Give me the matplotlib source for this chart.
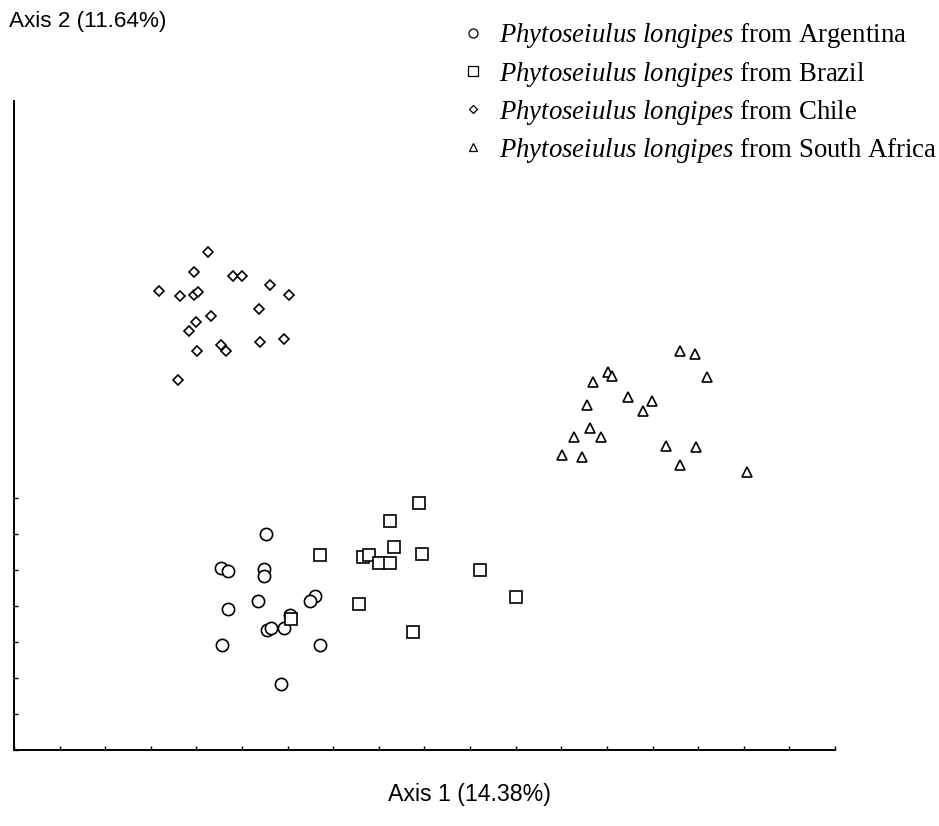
import numpy as np
import matplotlib
matplotlib.use("Agg")
import matplotlib.pyplot as plt
from matplotlib.lines import Line2D

plt.rcParams['mathtext.fontset'] = 'custom'
plt.rcParams['mathtext.rm'] = 'Liberation Serif'
plt.rcParams['mathtext.it'] = 'Liberation Serif:italic'

# --- data (axis units = tick spacing) ---
arg_x = [5.52, 4.54, 4.69, 5.49, 5.49, 5.35, 4.69, 6.60, 6.48, 6.05, 5.54, 5.64, 5.91, 4.55, 6.71, 5.85]
arg_y = [5.98, 5.05, 4.97, 5.01, 4.83, 4.12, 3.91, 4.26, 4.14, 3.74, 3.33, 3.37, 3.37, 2.90, 2.90, 1.83]

bra_x = [8.88, 8.25, 8.33, 6.71, 7.66, 7.79, 8.95, 8.01, 8.25, 10.21, 11.01, 7.56, 8.74, 6.07]
bra_y = [6.86, 6.36, 5.62, 5.41, 5.35, 5.41, 5.44, 5.18, 5.18, 5.00, 4.25, 4.04, 3.28, 3.63]

chi_x = [4.25, 3.94, 4.81, 5.00, 5.62, 3.18, 3.63, 3.95, 4.03, 6.04,
         5.37, 4.33, 3.98, 3.84, 5.93, 5.40, 4.01, 4.53, 4.64, 3.60]
chi_y = [13.81, 13.25, 13.15, 13.15, 12.89, 12.72, 12.58, 12.62, 12.69, 12.62,
         12.23, 12.05, 11.88, 11.61, 11.40, 11.31, 11.08, 11.22, 11.06, 10.25]

saf_x = [14.61, 14.92, 13.03, 13.11, 12.70, 15.20, 13.46, 13.99, 13.78, 12.57,
         12.62, 12.27, 12.86, 12.02, 12.45, 14.30, 14.96, 14.61, 16.08]
saf_y = [11.06, 10.97, 10.49, 10.38, 10.22, 10.34, 9.79, 9.68, 9.40, 9.56,
         8.92, 8.69, 8.69, 8.19, 8.14, 8.43, 8.39, 7.91, 7.71]

countries = ['Argentina', 'Brazil', 'Chile', 'South Africa']
xlabel = 'Axis 1 (14.38%)'
ylabel = 'Axis 2 (11.64%)'

fig = plt.figure(figsize=(9.39, 8.26), dpi=100)
ax = fig.add_axes([14/939, 76/826, 821/939, 649/826])

kw = dict(linestyle='none', markerfacecolor='white', markeredgecolor='black', markeredgewidth=1.2)
ax.plot(arg_x, arg_y, marker='o', markersize=8.8, **kw)
ax.plot(bra_x, bra_y, marker='s', markersize=8.2, **kw)
ax.plot(chi_x, chi_y, marker='D', markersize=5.4, **kw)
ax.plot(saf_x, saf_y, marker='^', markersize=7.8, **kw)

ax.set_xlim(0, 18)
ax.set_ylim(0, 18)
ax.set_xticks(range(0, 19))
ax.set_yticks(range(0, 8))
ax.tick_params(direction='in', length=3, width=1, labelbottom=False, labelleft=False)
for s in ['top', 'right']:
    ax.spines[s].set_visible(False)
for s in ['left', 'bottom']:
    ax.spines[s].set_linewidth(1.4)

fig.text(9/939, 1 - 22/826, ylabel, fontsize=16.2, family='Liberation Sans', va='center')
fig.text(469/939, 1 - 794/826, xlabel, fontsize=16.7, family='Liberation Sans', ha='center', va='center')

# legend
lkw = dict(linestyle='none', markerfacecolor='white', markeredgecolor='black', markeredgewidth=0.9)
handles = [Line2D([], [], marker='o', markersize=6.5, **lkw),
           Line2D([], [], marker='s', markersize=6.5, **lkw),
           Line2D([], [], marker='D', markersize=4.5, **lkw),
           Line2D([], [], marker='^', markersize=6, **lkw)]
labels = [r'$\mathit{Phytoseiulus\ longipes}$ from ' + c for c in countries]
fig.legend(handles, labels, loc='upper left', bbox_to_anchor=(449/939, 1 - 8/826),
           frameon=False, prop={'family': 'Liberation Serif', 'size': 19.3},
           handlelength=0.8, handletextpad=0.55, labelspacing=0.34, borderpad=0)

fig.savefig('out.png', dpi=100)
